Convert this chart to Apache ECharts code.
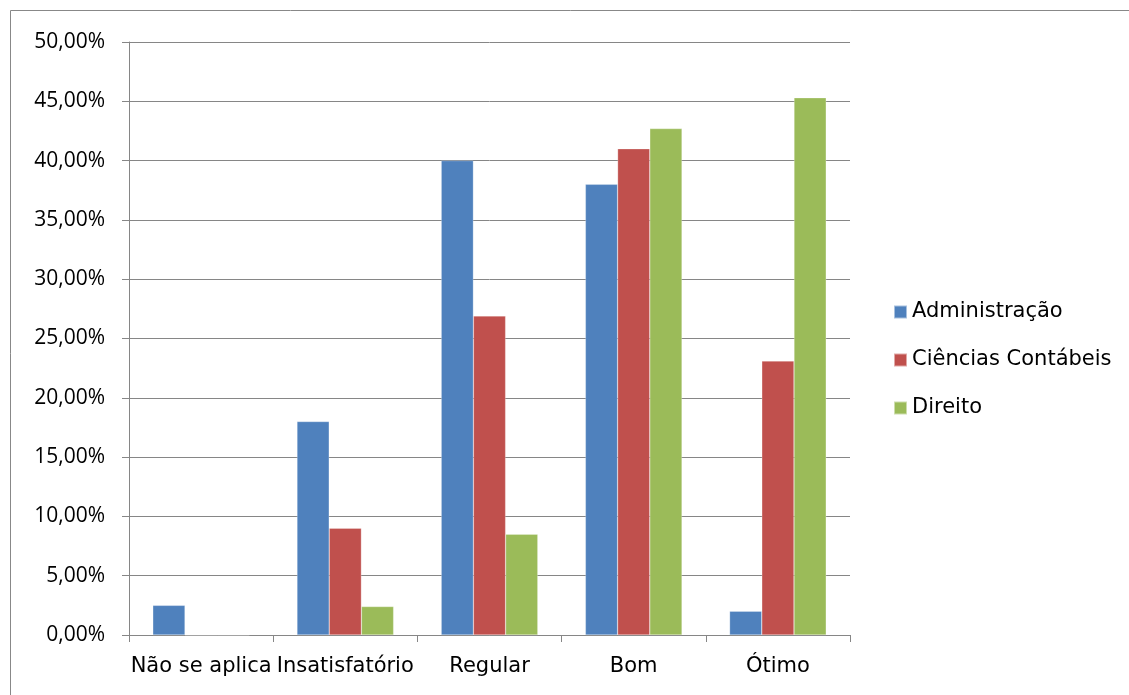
<!DOCTYPE html>
<html><head><meta charset="utf-8">
<script src="https://cdn.jsdelivr.net/npm/echarts@6/dist/echarts.min.js"></script>
<style>html,body{margin:0;padding:0;background:#fff}#c{width:1129px;height:695px}</style>
</head><body><div id="c"></div>
<script>
const categories = ['Não se aplica', 'Insatisfatório', 'Regular', 'Bom', 'Ótimo'];
const administracao = [2.5, 18.0, 40.0, 38.0, 2.0];
const cienciasContabeis = [0, 9.0, 26.9, 41.0, 23.1];
const direito = [0, 2.4, 8.5, 42.7, 45.3];
const seriesNames = ['Administração', 'Ciências Contábeis', 'Direito'];
const colors = ['#4F81BD', '#C0504D', '#9BBB59'];

const font = '"Open Sans", "Noto Sans", sans-serif';
const font2 = '"DejaVu Sans", "Open Sans", sans-serif';
const chart = echarts.init(document.getElementById('c'));
const mk = (name, data, i) => ({
  name, type: 'bar', data, barGap: '0%', barCategoryGap: '33%',
  itemStyle: { color: colors[i], borderColor: 'rgba(255,255,255,0.5)', borderWidth: 0.5 }
});
chart.setOption({
  animation: false,
  backgroundColor: '#fff',
  graphic: [{ type: 'rect', shape: { x: 10.5, y: 10.5, width: 1200, height: 800 },
    style: { fill: 'none', stroke: '#888', lineWidth: 1 } }],
  grid: { left: 129, right: 279, top: 42, bottom: 60 },
  legend: {
    orient: 'vertical', left: 888, top: 296, itemWidth: 13, itemHeight: 13, itemGap: 26,
    icon: 'rect', padding: 5,
    textStyle: { fontFamily: font2, fontSize: 21, color: '#000', lineHeight: 22 },
    data: seriesNames
  },
  xAxis: {
    type: 'category', data: categories,
    axisLine: { lineStyle: { color: '#868686', width: 1 } },
    axisTick: { show: true, length: 7, lineStyle: { color: '#868686' } },
    axisLabel: { fontFamily: font2, fontSize: 21, color: '#000', margin: 21, interval: 0 }
  },
  yAxis: {
    type: 'value', min: 0, max: 50, interval: 5,
    axisLine: { show: true, lineStyle: { color: '#868686', width: 1 } },
    axisTick: { show: true, length: 7, lineStyle: { color: '#868686' } },
    splitLine: { lineStyle: { color: '#868686', width: 1 } },
    axisLabel: { fontFamily: font, fontSize: 21, color: '#000', margin: 24,
      formatter: v => v.toFixed(2).replace('.', ',') + '%' }
  },
  series: [mk(seriesNames[0], administracao, 0), mk(seriesNames[1], cienciasContabeis, 1), mk(seriesNames[2], direito, 2)]
});
</script></body></html>
